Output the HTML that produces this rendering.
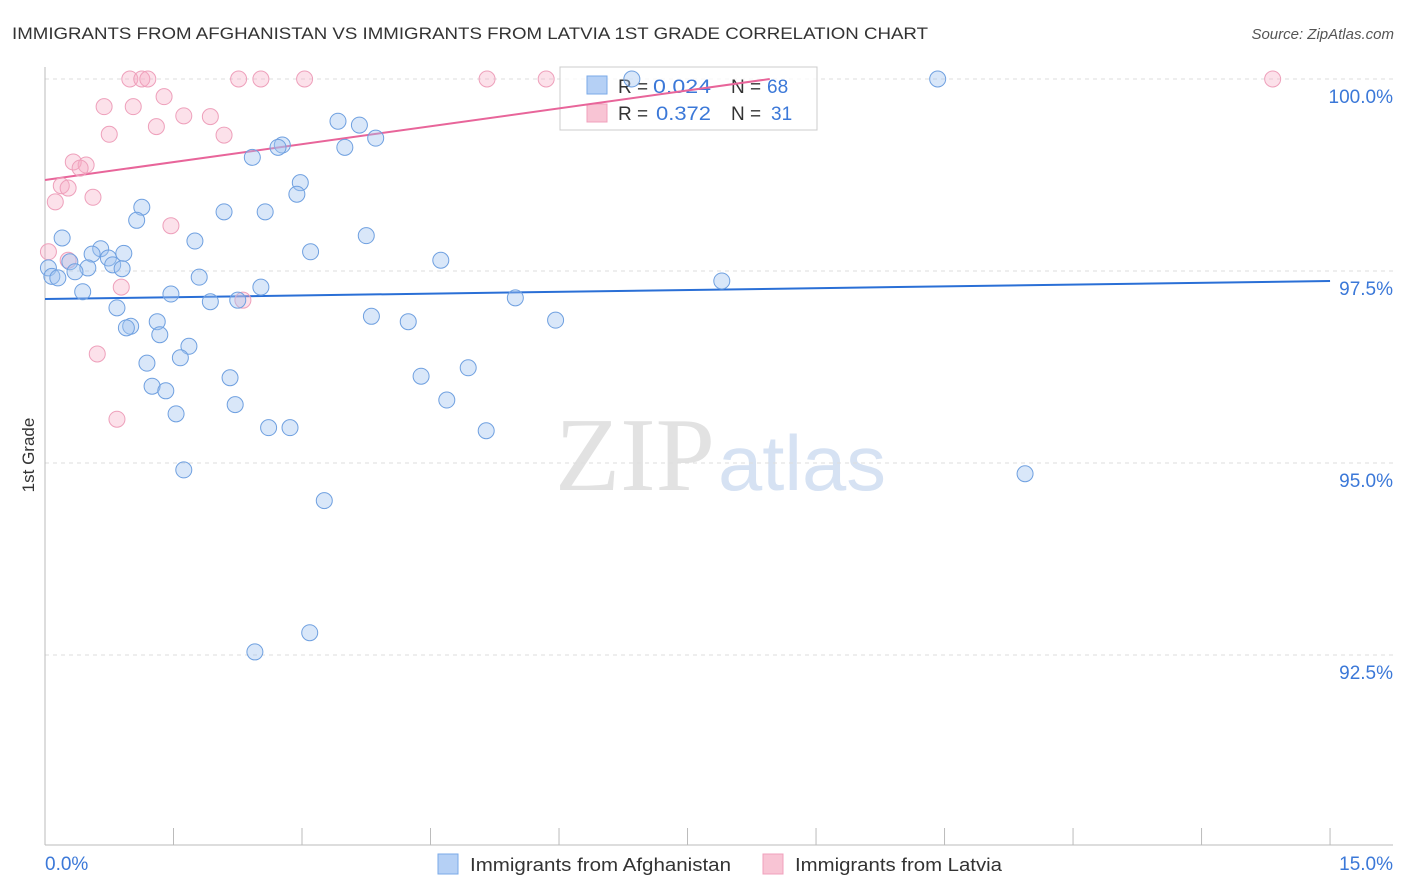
<!DOCTYPE html>
<html><head><meta charset="utf-8"><style>
body{margin:0;background:#fff;font-family:"Liberation Sans",sans-serif}
#wrap{position:relative;width:1406px;height:892px;overflow:hidden}
</style></head><body>
<div id="wrap">
<svg id="svg" width="1406" height="892" xmlns="http://www.w3.org/2000/svg">
<text x="12" y="39" font-size="17" fill="#333" textLength="916" lengthAdjust="spacingAndGlyphs">IMMIGRANTS FROM AFGHANISTAN VS IMMIGRANTS FROM LATVIA 1ST GRADE CORRELATION CHART</text>
<text x="1394" y="39" font-size="15" fill="#555" text-anchor="end" font-style="italic">Source: ZipAtlas.com</text>
<text x="34" y="455" font-size="17" fill="#333" text-anchor="middle" transform="rotate(-90 34 455)">1st Grade</text>
<text x="555" y="490" font-size="105" fill="#e2e2e2" textLength="160" lengthAdjust="spacingAndGlyphs" font-family="Liberation Serif">ZIP</text>
<text x="718" y="490" font-size="78" fill="#d6e2f3" textLength="168" lengthAdjust="spacingAndGlyphs">atlas</text>
<g id="grid"></g><g id="axes"></g>
<g>
<rect x="560" y="67" width="257" height="63" fill="rgba(255,255,255,0.75)" stroke="#ccc"/>
<rect x="587" y="76" width="20" height="18" fill="#b5d0f5" stroke="#7aaae8"/>
<rect x="587" y="104" width="20" height="18" fill="#f8c4d4" stroke="#f0a0bc"/>
<text x="618" y="93" font-size="19" fill="#333">R =</text>
<text x="653" y="93" font-size="19" fill="#3b78d8" textLength="58" lengthAdjust="spacingAndGlyphs">0.024</text>
<text x="731" y="93" font-size="19" fill="#333">N =</text>
<text x="767" y="93" font-size="19" fill="#3b78d8">68</text>
<text x="618" y="120" font-size="19" fill="#333">R =</text>
<text x="656" y="120" font-size="19" fill="#3b78d8" textLength="55" lengthAdjust="spacingAndGlyphs">0.372</text>
<text x="731" y="120" font-size="19" fill="#333">N =</text>
<text x="771" y="120" font-size="19" fill="#3b78d8">31</text>
</g>
<g id="lines"></g><g id="pts"></g>
<g>
<rect x="438" y="854" width="20" height="20" fill="#b5d0f5" stroke="#7aaae8"/>
<text x="470" y="871" font-size="18" fill="#333" textLength="261" lengthAdjust="spacingAndGlyphs">Immigrants from Afghanistan</text>
<rect x="763" y="854" width="20" height="20" fill="#f8c4d4" stroke="#f0a0bc"/>
<text x="795" y="871" font-size="18" fill="#333" textLength="207" lengthAdjust="spacingAndGlyphs">Immigrants from Latvia</text>
</g>
<text x="45" y="870" font-size="19" fill="#3b78d8">0.0%</text>
<text x="1393" y="870" font-size="19" fill="#3b78d8" text-anchor="end">15.0%</text>
</svg>
</div>
<script>
const yTicks=[100,97.5,95,92.5];
const yTickLabels=["100.0%","97.5%","95.0%","92.5%"];
const xTicks=[0,1.5,3,4.5,6,7.5,9,10.5,12,13.5,15];
const blueX=[6.85,10.42,3.42,3.67,3.86,2.77,2.72,3.50,2.42,2.98,2.94,1.13,1.07,2.09,2.57,3.75,0.20,1.75,3.10,0.65,0.55,0.92,0.74,4.62,0.29,0.50,0.79,0.90,0.04,0.35,0.08,0.15,1.80,7.90,2.52,0.44,1.47,1.93,2.25,5.49,0.84,1.31,1.00,0.95,1.34,3.81,4.24,5.96,1.68,1.58,1.19,2.16,4.39,4.94,1.25,1.41,2.22,4.69,1.53,2.61,2.86,5.15,1.62,11.44,3.26,3.09,2.45];
const blueY=[100,100,99.45,99.40,99.23,99.14,99.11,99.11,98.98,98.65,98.50,98.33,98.16,98.27,98.27,97.96,97.93,97.89,97.75,97.79,97.72,97.73,97.67,97.64,97.62,97.54,97.58,97.53,97.54,97.49,97.43,97.41,97.42,97.37,97.29,97.23,97.20,97.10,97.12,97.15,97.02,96.84,96.78,96.76,96.67,96.91,96.84,96.86,96.52,96.37,96.30,96.11,96.13,96.24,96.00,95.94,95.76,95.82,95.64,95.46,95.46,95.42,94.91,94.86,94.51,92.79,92.54];
const pinkX=[0.99,1.13,1.20,2.26,2.52,3.03,5.16,5.85,14.33,1.39,0.69,1.03,1.62,1.93,0.75,1.30,2.09,0.33,0.48,0.41,0.19,0.27,0.56,0.12,1.47,0.04,0.27,0.89,2.31,0.61,0.84];
const pinkY=[100,100,100,100,100,100,100,100,100,99.77,99.64,99.64,99.52,99.51,99.28,99.38,99.27,98.92,98.88,98.84,98.61,98.58,98.46,98.40,98.09,97.75,97.64,97.29,97.12,96.42,95.57];
const blueTrend=[97.135,97.37];
const pinkTrend=[98.685,100.0];
const pinkTrendX=[0,8.46];
const NS="http://www.w3.org/2000/svg";
const sx=v=>45+v*85.67;
const sy=v=>79+(100-v)*76.8;
function mk(tag,attrs,parent){const e=document.createElementNS(NS,tag);for(const k in attrs)e.setAttribute(k,attrs[k]);document.getElementById(parent).appendChild(e);return e;}
yTicks.forEach((t,i)=>{
  const g=mk('line',{x1:45,x2:1393,y1:sy(t),y2:sy(t),stroke:'#ddd','stroke-dasharray':'4,4'},'grid');
  
  
  const tx=mk('text',{x:1393,y:sy(t)+24,'font-size':19,fill:'#3b78d8','text-anchor':'end'},'grid');
  tx.textContent=yTickLabels[i];
  
  
});
const ya=mk('line',{x1:45,x2:45,y1:67,y2:845,stroke:'#bbb'},'axes');


const xa=mk('line',{x1:45,x2:1393,y1:845,y2:845,stroke:'#bbb'},'axes');


xTicks.forEach(t=>{
  const l=mk('line',{x1:sx(t),x2:sx(t),y1:828,y2:845,stroke:'#bbb'},'axes');
  
  
});
function dots(xs,ys,fill,stroke,name){
  xs.forEach((x,i)=>{
    const c=mk('circle',{cx:sx(x),cy:sy(ys[i]),r:8,fill:fill,stroke:stroke,'stroke-width':1},'pts');
    
    
  });
}
dots(pinkX,pinkY,'rgba(245,170,195,0.35)','#eea0bb','latvia-point');
dots(blueX,blueY,'rgba(160,196,240,0.4)','#6fa0e0','afghanistan-point');
const bl=mk('line',{x1:sx(0),y1:sy(blueTrend[0]),x2:sx(15),y2:sy(blueTrend[1]),stroke:'#2a6fd6','stroke-width':2},'lines');


const pl=mk('line',{x1:sx(pinkTrendX[0]),y1:sy(pinkTrend[0]),x2:sx(pinkTrendX[1]),y2:sy(pinkTrend[1]),stroke:'#e8659a','stroke-width':2},'lines');


</script>
</body></html>
